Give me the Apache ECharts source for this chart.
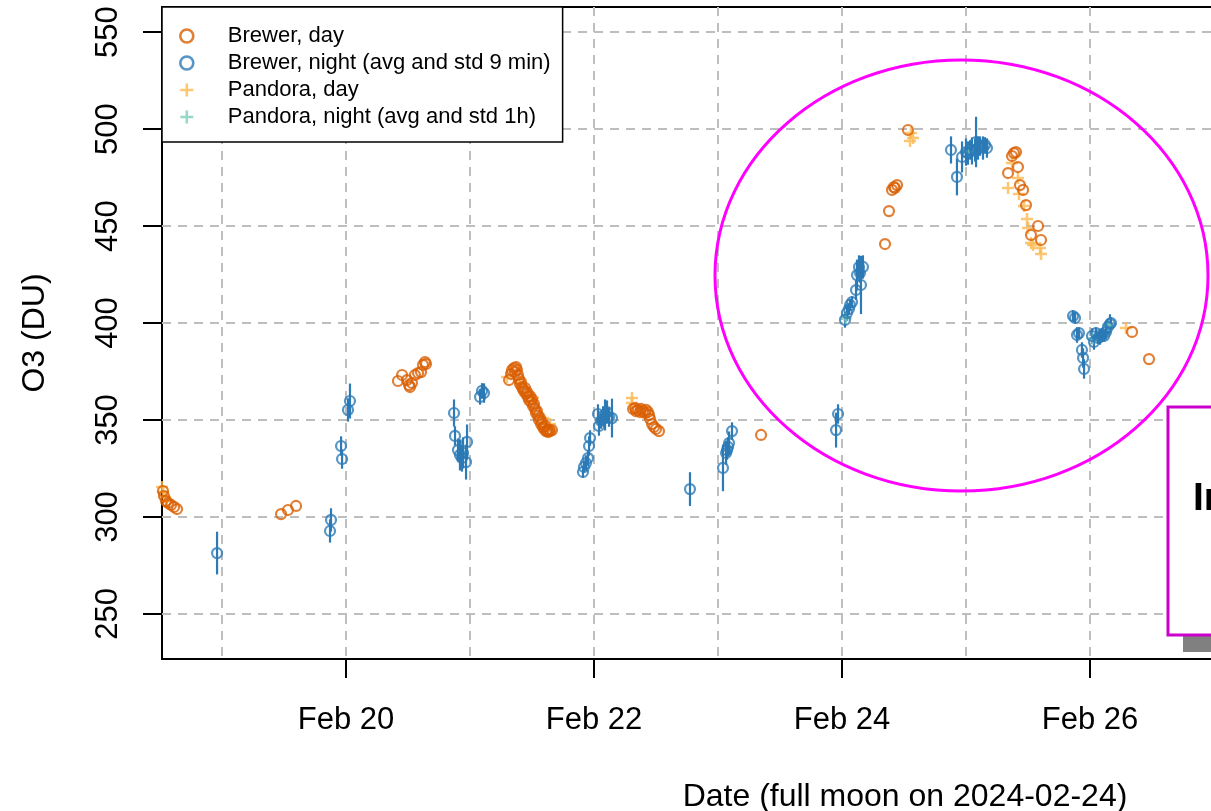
<!DOCTYPE html>
<html><head><meta charset="utf-8">
<script src="https://cdn.jsdelivr.net/npm/echarts@6/dist/echarts.min.js"></script>
<style>html,body{margin:0;padding:0;background:#fff}#c{width:1211px;height:811px}</style>
</head><body><div id="c"></div>
<script>
// Time = day of February 2024 (fractional days), O3 in Dobson units
const brewerDayTime = [
  18.524,18.532,18.548,18.565,18.589,18.613,18.637,
  19.476,19.532,19.597,
  20.419,20.452,20.492,20.508,20.516,20.532,20.556,20.581,20.605,20.621,20.637,20.645,
  21.315,21.331,21.339,21.355,21.363,21.371,21.379,21.387,21.395,21.403,21.411,21.419,21.427,21.435,21.444,21.452,21.460,21.468,21.476,21.484,21.492,21.500,21.508,21.516,21.524,21.532,21.540,21.548,21.556,21.565,21.573,21.581,21.589,21.597,21.605,21.613,21.621,21.629,21.637,21.645,21.661,
  22.315,22.331,22.339,22.355,22.371,22.379,22.395,22.411,22.419,22.435,22.444,22.452,22.468,22.484,22.500,22.524,
  23.347,
  24.347,24.379,24.403,24.419,24.427,24.444,24.532,
  25.339,25.371,25.387,25.403,25.419,25.435,25.460,25.484,25.524,25.581,25.605,
  26.339,26.476
];
const brewerDayO3 = [
  313.4,310.8,308.2,307.2,306.2,305.2,304.1,
  301.5,303.6,305.7,
  370.1,373.2,370.6,368.0,367.0,369.1,373.2,374.2,374.7,378.4,379.9,378.9,
  370.6,373.7,375.8,376.8,374.7,377.3,375.8,373.2,371.1,368.6,369.6,367.0,366.0,364.9,366.5,363.4,364.4,361.9,360.3,362.4,359.3,360.8,357.2,358.2,355.7,353.6,354.6,352.1,350.0,351.0,347.9,349.0,346.4,345.4,346.9,344.3,344.8,343.8,344.8,344.3,344.8,
  355.7,356.2,354.6,355.2,354.1,355.7,354.6,353.6,355.2,354.1,352.6,350.5,347.9,346.4,345.4,344.3,
  342.3,
  440.7,457.7,468.6,470.1,469.6,471.1,499.5,
  477.3,486.1,487.6,488.1,480.4,471.1,468.6,460.8,445.4,450.0,442.8,
  395.4,381.4
];
const brewerNightTime = [
  18.960,19.871,19.879,19.960,19.968,20.016,20.032,
  20.871,20.879,20.903,20.919,20.935,20.944,20.968,20.976,21.081,21.097,21.113,
  21.911,21.919,21.935,21.952,21.960,21.968,22.032,22.040,22.056,22.073,22.089,22.105,22.121,22.145,
  22.774,23.040,23.065,23.073,23.081,23.089,23.113,
  23.952,23.968,24.024,24.040,24.056,24.065,24.081,24.113,24.121,24.137,24.145,24.153,24.169,
  24.879,24.927,24.968,25.000,25.016,25.032,25.048,25.073,25.081,25.097,25.113,25.137,25.153,25.169,
  25.863,25.879,25.895,25.911,25.935,25.944,25.952,26.016,26.032,26.048,26.065,26.081,26.097,26.113,26.129,26.145,26.161,26.169
];
const brewerNightO3 = [
  281.4,292.8,298.5,336.6,329.9,355.2,359.8,
  353.6,341.8,334.5,332.0,330.4,333.0,328.3,338.7,361.9,365.0,363.9,
  323.2,325.8,327.8,330.4,336.6,340.7,353.1,346.9,349.5,352.1,352.6,354.1,351.5,351.0,
  314.4,325.3,333.0,334.5,336.1,338.1,344.3,
  344.8,353.1,401.6,405.2,407.2,409.3,410.8,417.0,424.7,428.9,425.8,419.6,428.9,
  489.2,475.3,485.6,488.1,487.6,489.2,488.7,489.2,493.3,490.2,491.2,490.2,491.8,490.2,
  403.6,402.6,393.8,394.8,386.1,382.0,376.3,393.3,390.2,394.8,392.3,392.8,394.3,393.3,395.4,398.0,399.5,400.0
];
const brewerNightStd = [
  11,6,6,5,5,6,9,
  7,5,6,8,7,8,9,9,4,4,5,
  3,3,4,4,5,4,5,5,4,5,8,6,5,10,
  8.7,12,6,5,5,6,4.5,
  9,5,4,4,3,3,3,5,8,6,5,15,6,
  7,9.5,8,7,6,5,7,6,13,6,5,6,4,5,
  3,3,4,3,4,5,5,4,4,3,3,4,3,3,4,4,5,3
];
const pandoraDayTime = [
  18.516,18.524,18.540,18.556,
  21.298,21.403,21.508,21.589,21.645,
  22.306,22.306,
  24.548,24.556,24.573,
  25.339,25.371,25.419,25.427,25.468,25.492,25.500,25.524,25.540,25.597,25.605,
  26.290
];
const pandoraDayO3 = [
  315.5,312.9,310.3,308.2,
  372.2,369.6,361.3,351.0,347.9,
  361.3,358.8,
  493.8,497.9,495.4,
  469.6,482.5,474.7,466.5,460.3,453.6,449.0,441.2,440.2,438.7,435.6,
  397.4
];
const pandoraNightTime = [24.030,25.020,26.020,26.150];
const pandoraNightO3 = [402.5,488.5,392.0,399.0];
const pandoraNightStd = [2,3,2,2];

const xTickDays = [20,22,24,26,28];
const xGridDays = [19,20,21,22,23,24,25,26,27,28,29,30];
const yTicks = [250,300,350,400,450,500,550];

const FONT = '"Liberation Sans", Arial, Helvetica, sans-serif';
const C_BD = '#D95F02', C_BN = '#2C7BB6', C_PD = '#FDB84E', C_PN = '#7FCDBB';
const PLUS = 'path://M0,5H10M5,0V10';

function pts(t, v){ return t.map((x,i)=>[x, v[i]]); }
function errorBars(name, t, v, s, color){
  return {
    type:'custom', name:name, silent:true, z:2,
    data: t.map((x,i)=>[x, v[i], s[i]]),
    encode:{x:0, y:1},
    renderItem:function(params, api){
      const x = api.value(0), y = api.value(1), e = api.value(2);
      const a = api.coord([x, y-e]), b = api.coord([x, y+e]);
      return {type:'line', shape:{x1:a[0], y1:a[1], x2:b[0], y2:b[1]}, style:{stroke:color, lineWidth:2.2}};
    }
  };
}

const chart = echarts.init(document.getElementById('c'), null, {renderer:'canvas'});
chart.setOption({
  animation:false,
  backgroundColor:'#fff',
  textStyle:{fontFamily:FONT},
  grid:{left:162, top:7, width:1486, height:652, outerBoundsMode:'none', containLabel:false,
    show:true, borderColor:'#000', borderWidth:2, backgroundColor:'rgba(0,0,0,0)'},
  legend:{
    data:['Brewer, day','Brewer, night (avg and std 9 min)','Pandora, day','Pandora, night (avg and std 1h)'],
    orient:'vertical', left:162, top:7,
    backgroundColor:'#fff', borderColor:'#000', borderWidth:1.5, borderRadius:0,
    padding:[18,12,14,17], itemGap:5, itemWidth:14, itemHeight:13,
    itemStyle:{borderWidth:2.6},
    textStyle:{fontSize:22, fontFamily:FONT, color:'#000', lineHeight:22, padding:[0,0,0,29]},
    selectedMode:false
  },
  xAxis:[{
    type:'value', min:18.516, max:30.5, position:'bottom',
    axisLine:{show:false}, splitLine:{show:false},
    axisTick:{show:true, customValues:xTickDays, length:19, lineStyle:{color:'#000', width:2}},
    axisLabel:{customValues:xTickDays, formatter:function(v){return 'Feb ' + v;}, fontSize:31, color:'#000', fontFamily:FONT, margin:46},
    name:'Date (full moon on 2024-02-24)', nameLocation:'middle', nameGap:122,
    nameTextStyle:{fontSize:32, color:'#000', fontFamily:FONT}
  },{
    type:'value', min:18.516, max:30.5, position:'bottom',
    axisLine:{show:false}, axisLabel:{show:false},
    axisTick:{show:false, customValues:xGridDays},
    splitLine:{show:true, lineStyle:{color:'#BEBEBE', width:2, type:[9,7]}}
  }],
  yAxis:{
    type:'value', min:226.8, max:562.9,
    axisLine:{show:false},
    axisTick:{show:true, customValues:yTicks, length:19, lineStyle:{color:'#000', width:2}},
    axisLabel:{customValues:yTicks, rotate:90, fontSize:31, color:'#000', fontFamily:FONT, margin:38},
    splitLine:{show:true, lineStyle:{color:'#BEBEBE', width:2, type:[9,7]}},
    name:'O3 (DU)', nameLocation:'middle', nameGap:111,
    nameTextStyle:{fontSize:32, color:'#000', fontFamily:FONT}
  },
  series:[
    {type:'scatter', name:'Pandora, day', data:pts(pandoraDayTime, pandoraDayO3), symbol:PLUS, symbolSize:12,
      itemStyle:{color:'rgba(0,0,0,0)', borderColor:C_PD, borderWidth:2.5}, z:2, silent:true},
    errorBars('pn-err', pandoraNightTime, pandoraNightO3, pandoraNightStd, C_PN),
    {type:'scatter', name:'Pandora, night (avg and std 1h)', data:pts(pandoraNightTime, pandoraNightO3), symbol:PLUS, symbolSize:12,
      itemStyle:{color:'rgba(0,0,0,0)', borderColor:C_PN, borderWidth:2.5}, z:2, silent:true},
    {type:'scatter', name:'Brewer, day', data:pts(brewerDayTime, brewerDayO3), symbol:'circle', symbolSize:10,
      itemStyle:{color:'rgba(0,0,0,0)', borderColor:C_BD, borderWidth:2.2}, z:3, silent:true},
    errorBars('bn-err', brewerNightTime, brewerNightO3, brewerNightStd, C_BN),
    {type:'scatter', name:'Brewer, night (avg and std 9 min)', data:pts(brewerNightTime, brewerNightO3), symbol:'circle', symbolSize:10,
      itemStyle:{color:'rgba(0,0,0,0)', borderColor:C_BN, borderWidth:2.2}, z:3, silent:true}
  ],
  graphic:[
    {type:'ellipse', shape:{cx:961.5, cy:275.5, rx:246.5, ry:215.5}, style:{fill:'none', stroke:'#FF00FF', lineWidth:3}, z:100, silent:true},
    {type:'rect', shape:{x:1183, y:424, width:200, height:228}, style:{fill:'#808080'}, z:100, silent:true},
    {type:'rect', shape:{x:1168, y:407, width:200, height:228}, style:{fill:'#fff', stroke:'#CC00CC', lineWidth:3}, z:101, silent:true},
    {type:'text', x:1193, y:499, style:{text:'In', font:'bold 39px "Liberation Sans", Arial, sans-serif', fill:'#000', verticalAlign:'middle'}, z:102, silent:true}
  ]
});
</script>
</body></html>
